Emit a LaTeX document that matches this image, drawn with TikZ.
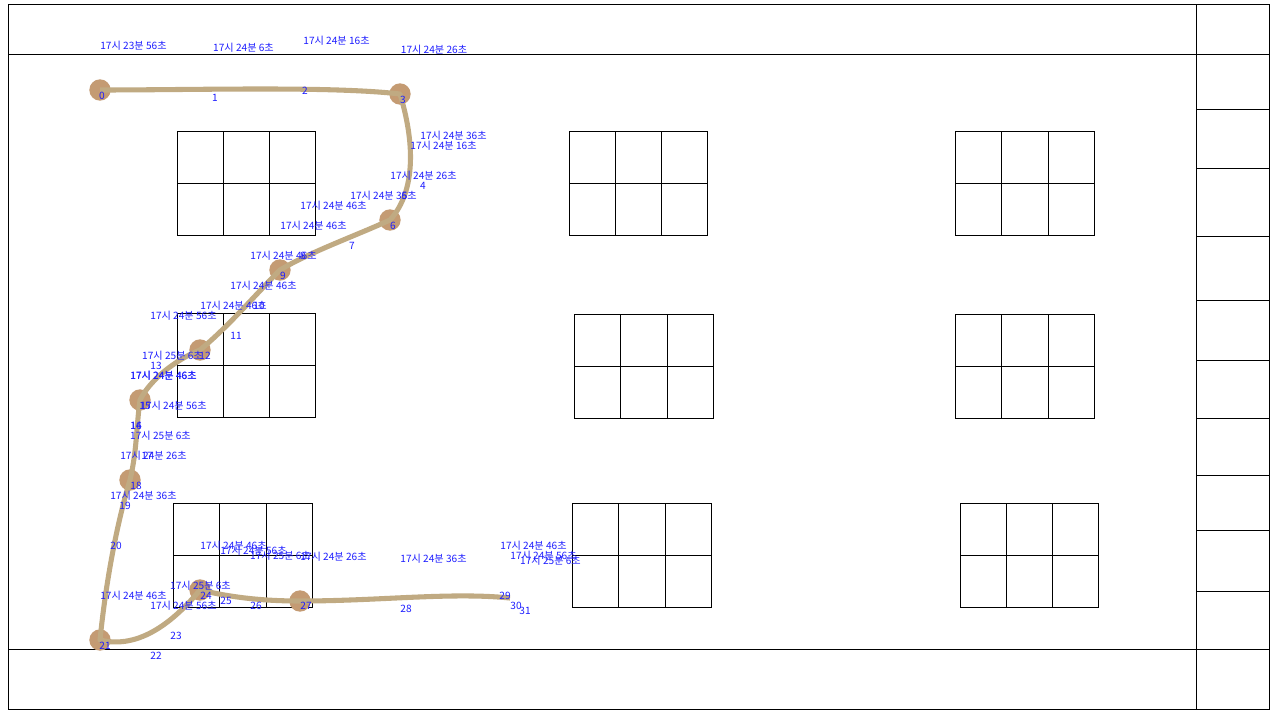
\documentclass[tikz,border=0pt]{standalone}
\usepackage{fontspec}
\setmainfont{Noto Sans CJK KR}
\definecolor{stopfill}{RGB}{196,155,115}
\definecolor{route}{RGB}{192,170,130}
\definecolor{labelblue}{RGB}{30,30,255}
\tikzset{
  px/.style={x=0.75pt,y=-0.75pt},
  frameline/.style={draw=black,line width=0.75pt},
  stopdot/.style={circle,fill=stopfill,draw=none,minimum size=16pt,inner sep=0pt},
  routeline/.style={draw=route,line width=3.8pt,line join=round},
  lab/.style={text=labelblue,font=\fontsize{7.6pt}{8pt}\selectfont,inner sep=0pt},
}
\newcommand{\gridblock}[3]{%
  \draw[frameline] (#1,#2) rectangle (#1+138.5,#2+#3);
  \draw[frameline] (#1+46.4,#2) -- (#1+46.4,#2+#3);
  \draw[frameline] (#1+92.6,#2) -- (#1+92.6,#2+#3);
  \draw[frameline] (#1,#2+52) -- (#1+138.5,#2+52);
}
\begin{document}
\begin{tikzpicture}[px]
\useasboundingbox (0,0) rectangle (1280,720);
\fill[white] (0,0) rectangle (1280,720);
\draw[frameline] (8,4.6) rectangle (1269.6,709.8);
\draw[frameline] (8,54.6) -- (1269.6,54.6);
\draw[frameline] (8,649.4) -- (1269.6,649.4);
\draw[frameline] (1196,4.6) -- (1196,709.8);
\foreach \y in {109.6,168.6,236.6,300.6,360.6,418.6,475.6,530.6,591.6}
  \draw[frameline] (1196,\y) -- (1269.6,\y);
\gridblock{177}{131.3}{104}
\gridblock{569}{131.3}{104}
\gridblock{955.5}{131.3}{104}
\gridblock{177}{313.3}{104}
\gridblock{574.5}{314.3}{104}
\gridblock{955.5}{314.3}{104}
\gridblock{173.5}{503.3}{104}
\gridblock{572.5}{503.3}{104}
\gridblock{960}{503.3}{104}
\node[stopdot] (s0) at (100,90) {};
\node[stopdot] (s3) at (400,94) {};
\node[stopdot] (s6) at (390,220) {};
\node[stopdot] (s9) at (280,270) {};
\node[stopdot] (s12) at (200,350) {};
\node[stopdot] (s15) at (140,400) {};
\node[stopdot] (s18) at (130,480) {};
\node[stopdot] (s21) at (100,640) {};
\node[stopdot] (s24) at (200,590) {};
\node[stopdot] (s27) at (300,601) {};
\coordinate (e29) at (510,598);
\draw[routeline] (s0.center) .. controls (200,90) and (330,86) .. (s3.center)
  .. controls (414,140) and (417,190) .. (s6.center)
  .. controls (355,236) and (310,252) .. (s9.center)
  .. controls (255,295) and (230,325) .. (s12.center)
  .. controls (175,360) and (150,380) .. (s15.center)
  .. controls (136,430) and (137,450) .. (s18.center)
  .. controls (115,530) and (105,590) .. (s21.center)
  .. controls (140,650) and (175,620) .. (s24.center)
  .. controls (230,597) and (260,601) .. (s27.center)
  .. controls (380,601) and (450,592) .. (e29);
\foreach \x/\y/\t in {
 133.5/45.5/{23분 56},243.5/47.5/{24분 6},336.5/40.5/{24분 16},434/49.5/{24분 26},
 453.5/135.5/{24분 36},443.5/145.5/{24분 16},423.5/175.5/{24분 26},383.5/195.5/{24분 36},
 333.5/205.5/{24분 46},313.5/225.5/{24분 46},283.5/255.5/{24분 46},263.5/285.5/{24분 46},
 233.5/305.5/{24분 46},183.5/315.5/{24분 56},172.5/355.5/{25분 6},163.5/375.5/{24분 46},163.5/375.5/{24분 46},
 173.5/405.5/{24분 56},160.5/435.5/{25분 6},153.5/455.5/{24분 26},143.5/495.5/{24분 36},
 133.5/595.5/{24분 46},183.5/605.5/{24분 56},200.5/585.5/{25분 6},233.5/546/{24분 46},
 253.5/550.5/{24분 56},280.5/555.5/{25분 6},333.5/556.5/{24분 26},433.5/558.5/{24분 36},
 533.5/545.5/{24분 46},543.5/555.5/{24분 56},550.5/560.5/{25분 6}}
  \node[lab] at (\x,\y) {17시 \t 초};
\foreach \x/\y/\t in {
 102/96/0,215/97.5/1,305/90.5/2,403/99.5/3,423/185.5/4,404.5/195.5/5,393/225.5/6,352/245.5/7,303/255.5/8,283/275.5/9,
 259/305.5/10,236/335.5/11,205/355.5/12,156/366/13,136/425.5/14,145/405.5/15,136/425.5/16,147/455.5/17,136/485.5/18,
 125/505.5/19,116/545.5/20,105/646/21,156/655.5/22,176/635.5/23,206/595.5/24,226/600.5/25,256/605.5/26,306/606/27,
 406/608.5/28,505/595.5/29,516/605.5/30,525/610.5/31}
  \node[lab] at (\x,\y) {\t};
\end{tikzpicture}
\end{document}
